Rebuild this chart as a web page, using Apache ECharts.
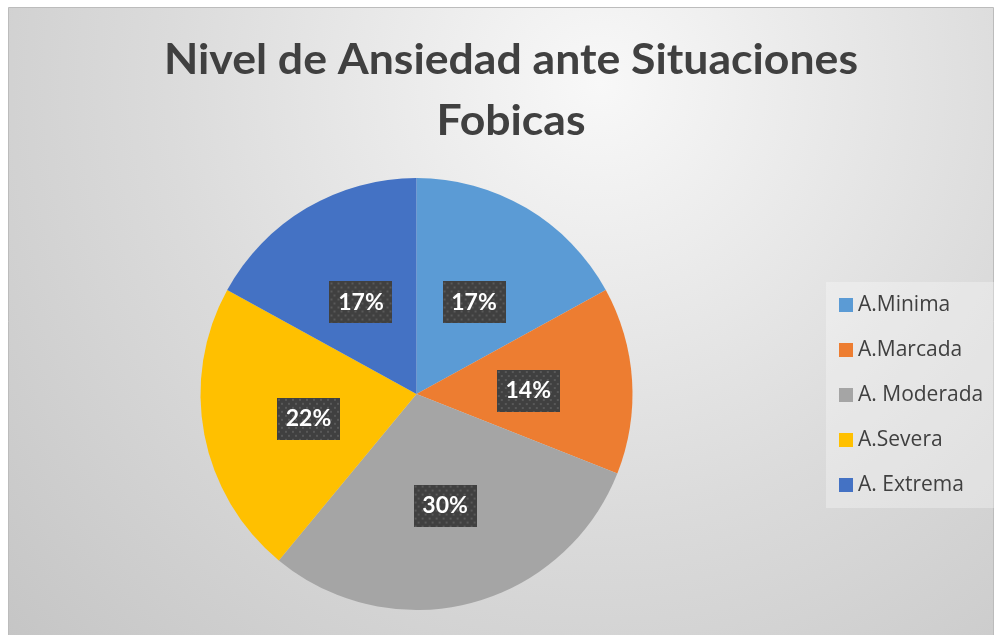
<!DOCTYPE html>
<html>
<head>
<meta charset="utf-8">
<script src="https://cdn.jsdelivr.net/npm/echarts@6/dist/echarts.min.js"></script>
<style>
html,body{margin:0;padding:0;background:#ffffff;}
#chart{width:999px;height:635px;}
</style>
</head>
<body>
<div id="chart"></div>
<script>
const titleLines = ['Nivel de Ansiedad ante Situaciones', 'Fobicas'];
const categories = ['A.Minima', 'A.Marcada', 'A. Moderada', 'A.Severa', 'A. Extrema'];
const values = [17, 14, 30, 22, 17];
const colors = ['#5B9BD5', '#ED7D31', '#A5A5A5', '#FFC000', '#4472C4'];

const mc = document.createElement('canvas').getContext('2d');
mc.font = 'bold 42px Lato';
const w1 = mc.measureText(titleLines[0]).width;
const titleScale = 694 / w1;

// dotted label background
const LW = 63, LH = 42;
const pat = document.createElement('canvas');
pat.width = LW; pat.height = LH;
const pc = pat.getContext('2d');
pc.fillStyle = '#404040';
pc.fillRect(0, 0, LW, LH);
pc.fillStyle = '#595959';
for (let y = 1, row = 0; y < LH; y += 4, row++) {
  for (let x = (row % 2 ? 4 : 1); x < LW; x += 7) {
    pc.fillRect(x, y, 2, 2);
  }
}

const chart = echarts.init(document.getElementById('chart'), null, {renderer: 'canvas'});
chart.setOption({
  animation: false,
  color: colors,
  graphic: [
    {
      type: 'rect', z: -10, silent: true,
      shape: {x: 8.5, y: 7.5, width: 985, height: 640},
      style: {
        fill: {
          type: 'radial', x: 0.6, y: 0.12, r: 1.35,
          colorStops: [
            {offset: 0, color: '#f8f8f8'},
            {offset: 0.5, color: '#dbdbdb'},
            {offset: 1, color: '#c2c2c2'}
          ]
        },
        stroke: '#bcbcbc', lineWidth: 1
      }
    },
    {
      type: 'rect', z: -5, silent: true,
      shape: {x: 826, y: 282, width: 170, height: 226},
      style: {fill: 'rgba(255,255,255,0.3)'}
    },
    {
      type: 'text', silent: true,
      x: 511, y: 39, scaleX: titleScale,
      style: {text: titleLines[0], font: 'bold 42px Lato', fill: '#404040', textAlign: 'center'}
    },
    {
      type: 'text', silent: true,
      x: 511, y: 100, scaleX: titleScale,
      style: {text: titleLines[1], font: 'bold 42px Lato', fill: '#404040', textAlign: 'center'}
    }
  ],
  legend: {
    orient: 'vertical',
    left: 839, top: 294.5,
    itemWidth: 14, itemHeight: 14, itemGap: 24,
    icon: 'rect',
    padding: 0,
    data: categories,
    textStyle: {fontFamily: 'Open Sans', fontSize: 21, color: '#404040'}
  },
  series: [{
    type: 'pie',
    center: [416.5, 394],
    radius: [0, 216],
    startAngle: 90,
    clockwise: true,
    silent: true,
    avoidLabelOverlap: false,
    labelLine: {show: false},
    label: {
      show: true,
      position: 'inside',
      formatter: '{c}%',
      offset: [1, 4],
      fontFamily: 'Lato', fontWeight: 'bold', fontSize: 23, color: '#ffffff',
      width: LW, height: LH, lineHeight: LH, align: 'center', verticalAlign: 'middle',
      backgroundColor: {image: pat},
      shadowColor: 'rgba(0,0,0,0.45)', shadowBlur: 8, shadowOffsetX: 3, shadowOffsetY: 4
    },
    data: categories.map((c, i) => ({name: c, value: values[i]}))
  }]
});
</script>
</body>
</html>
